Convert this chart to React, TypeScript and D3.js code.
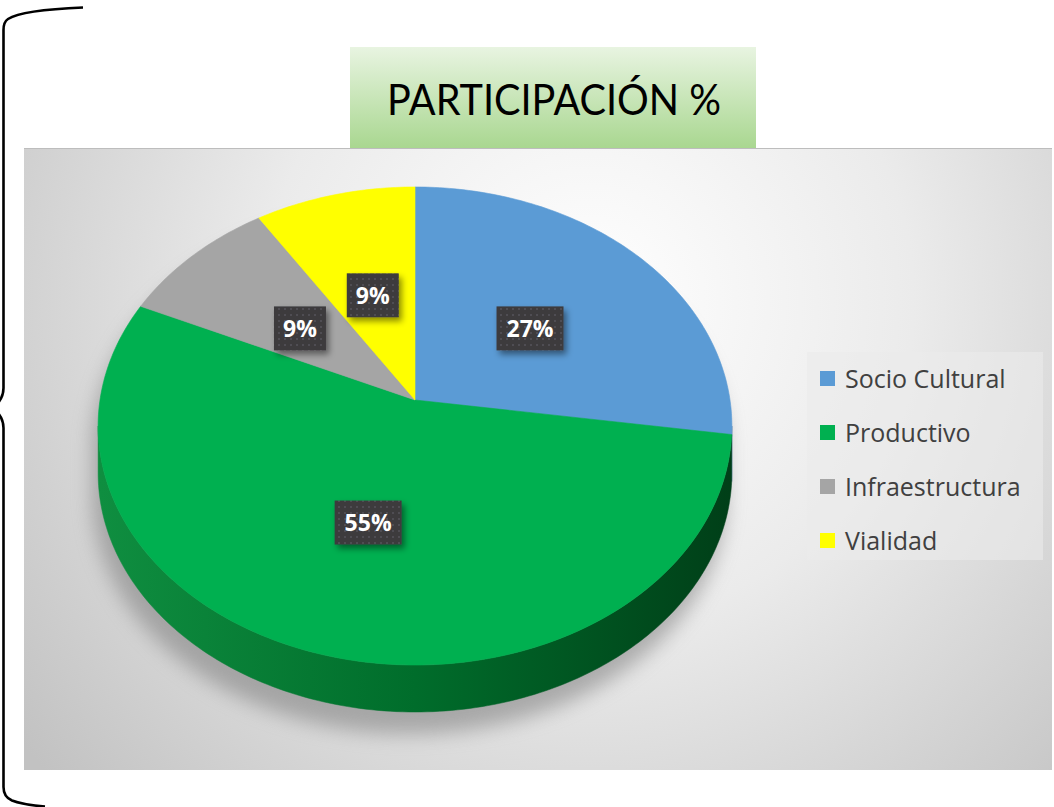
import React from "react";
import * as d3 from "d3";

const categories = ["Socio Cultural", "Productivo", "Infraestructura", "Vialidad"];
const values = [27.3, 54.5, 9.1, 9.1];
const topColors = ["#5b9bd5", "#00b050", "#a5a5a5", "#ffff00"];
const sideColors = [
  ["#4f87bd", "#3f74aa", "#2f5f90"],
  ["#0f8e40", "#006d2b", "#003f18"],
  ["#8c8c8c", "#777777", "#606060"],
  ["#d9d900", "#bdbd00", "#9a9a00"],
];
const titleText = "PARTICIPACIÓN %";

const W = 1054;
const H = 807;
const cx = 415;
const cy = 400;
const A = 315;
const B = 236.2;
const K = 0.1088;
const depth = 47;

function proj(r: number, t: number): [number, number] {
  const u = r * Math.sin(t);
  const v = r * Math.cos(t);
  const w = 1 + K * v;
  return [cx + (A * u) / w, cy - (B * v) / w];
}

function arcPoints(a0: number, a1: number, dy = 0): [number, number][] {
  const n = Math.max(2, Math.ceil(((a1 - a0) / (2 * Math.PI)) * 360));
  return d3.range(n + 1).map((i) => {
    const t = a0 + ((a1 - a0) * i) / n;
    const p = proj(1, t);
    return [p[0], p[1] + dy] as [number, number];
  });
}

const line = d3.line<[number, number]>();

export default function App() {
  React.useEffect(() => {
    document.body.style.margin = "0";
  }, []);

  const pie = d3
    .pie<number>()
    .sort(null)
    .startAngle(0)
    .endAngle(2 * Math.PI)
    .value((d) => d);
  const arcs = pie(values);

  const visA = Math.acos(-K);
  const visB = 2 * Math.PI - visA;

  const silhouette = line([...arcPoints(0, 2 * Math.PI)])! + "Z";
  const sideFull =
    line([...arcPoints(visA, visB), ...arcPoints(visA, visB, depth).reverse()])! + "Z";

  return (
    <svg
      width={W}
      height={H}
      viewBox={`0 0 ${W} ${H}`}
      style={{ position: "absolute", left: 0, top: 0, display: "block" }}
    >
      <defs>
        <radialGradient id="bg" cx="590" cy="300" r="720" gradientUnits="userSpaceOnUse">
          <stop offset="0" stopColor="#ffffff" />
          <stop offset="0.45" stopColor="#ebebeb" />
          <stop offset="1" stopColor="#c2c2c2" />
        </radialGradient>
        <linearGradient id="titleGrad" x1="0" y1="0" x2="0" y2="1">
          <stop offset="0" stopColor="#e8f4e1" />
          <stop offset="1" stopColor="#a9d790" />
        </linearGradient>
        {sideColors.map((c, i) => (
          <linearGradient
            key={i}
            id={`side${i}`}
            x1={cx - A}
            x2={cx + A}
            y1="0"
            y2="0"
            gradientUnits="userSpaceOnUse"
          >
            <stop offset="0" stopColor={c[0]} />
            <stop offset="0.5" stopColor={c[1]} />
            <stop offset="1" stopColor={c[2]} />
          </linearGradient>
        ))}
        <filter id="blur" x="-30%" y="-30%" width="160%" height="160%">
          <feGaussianBlur stdDeviation="10" />
        </filter>
        <filter id="boxShadow" x="-30%" y="-30%" width="170%" height="170%">
          <feDropShadow dx="3" dy="4" stdDeviation="3" floodColor="#000" floodOpacity="0.45" />
        </filter>
        <pattern id="dots" width="6" height="6" patternUnits="userSpaceOnUse">
          <rect width="6" height="6" fill="#3d3b3e" />
          <circle cx="3" cy="3" r="0.9" fill="#58565c" />
        </pattern>
        <clipPath id="panelClip">
          <rect x="24" y="148" width="1028" height="622" />
        </clipPath>
      </defs>

      {/* left brace */}
      <path
        d="M83,7.5 Q22,10 8,19 Q3.5,22 3.5,30 L3.5,388 Q3.5,397 -3,404 M-3,412 Q3.5,419 3.5,428 L3.5,787 Q3.5,797 12,800.5 Q24,805 45,806.5"
        fill="none"
        stroke="#000"
        strokeWidth="2.6"
      />

      {/* title box */}
      <rect x="350" y="47" width="406" height="101" fill="url(#titleGrad)" />
      <text
        x="554"
        y="115"
        textAnchor="middle"
        fontFamily="Lato, 'Open Sans', sans-serif"
        fontWeight="400"
        fontSize="43"
        fill="#000"
        textLength="334"
        lengthAdjust="spacingAndGlyphs"
      >
        {titleText}
      </text>

      {/* panel */}
      <rect x="24" y="148" width="1028" height="622" fill="url(#bg)" />
      <line x1="24" y1="148.5" x2="1052" y2="148.5" stroke="#bdbdbd" strokeWidth="1" />

      <g clipPath="url(#panelClip)">
        {/* shadow */}
        <g filter="url(#blur)" opacity="0.55">
          <path d={silhouette} fill="#7a7a7a" transform="translate(-6,22)" />
          <path d={sideFull} fill="#7a7a7a" transform="translate(-6,22)" />
        </g>

        {/* sides */}
        {arcs.map((a, i) => {
          const s = Math.max(a.startAngle, visA);
          const e = Math.min(a.endAngle, visB);
          if (e <= s) return null;
          const d =
            line([...arcPoints(s, e), ...arcPoints(s, e, depth).reverse()])! + "Z";
          return (
            <path
              key={`s${i}`}
              d={d}
              fill={`url(#side${i})`}
              stroke={`url(#side${i})`}
              strokeWidth="0.5"
            />
          );
        })}

        {/* tops */}
        {arcs.map((a, i) => {
          const pts: [number, number][] = [[cx, cy], ...arcPoints(a.startAngle, a.endAngle)];
          return (
            <path
              key={`t${i}`}
              d={line(pts)! + "Z"}
              fill={topColors[i]}
              stroke={topColors[i]}
              strokeWidth="0.6"
            />
          );
        })}

        {/* labels */}
        {arcs.map((a, i) => {
          const mid = (a.startAngle + a.endAngle) / 2;
          const [lx, ly0] = proj(0.5, mid);
          const ly = ly0 + 3;
          const txt = `${Math.round(values[i])}%`;
          const bw = 22 + 15 * txt.length;
          const bh = 44;
          return (
            <g key={`l${i}`}>
              <rect
                x={lx - bw / 2}
                y={ly - bh / 2}
                width={bw}
                height={bh}
                fill="url(#dots)"
                filter="url(#boxShadow)"
              />
              <text
                x={lx}
                y={ly + 8.5}
                textAnchor="middle"
                fontFamily="'Open Sans', sans-serif"
                fontWeight="bold"
                fontSize="23"
                fill="#ffffff"
              >
                {txt}
              </text>
            </g>
          );
        })}

        {/* legend */}
        <rect x="807" y="352" width="236" height="208" fill="#ebebeb" opacity="0.6" />
        {categories.map((c, i) => {
          const yc = 379 + i * 54;
          return (
            <g key={`g${i}`}>
              <rect x="820" y={yc - 8} width="15" height="15" fill={topColors[i]} />
              <text
                x="845"
                y={yc + 9}
                fontFamily="'Open Sans', sans-serif"
                fontSize="25"
                fill="#404040"
              >
                {c}
              </text>
            </g>
          );
        })}
      </g>
    </svg>
  );
}
